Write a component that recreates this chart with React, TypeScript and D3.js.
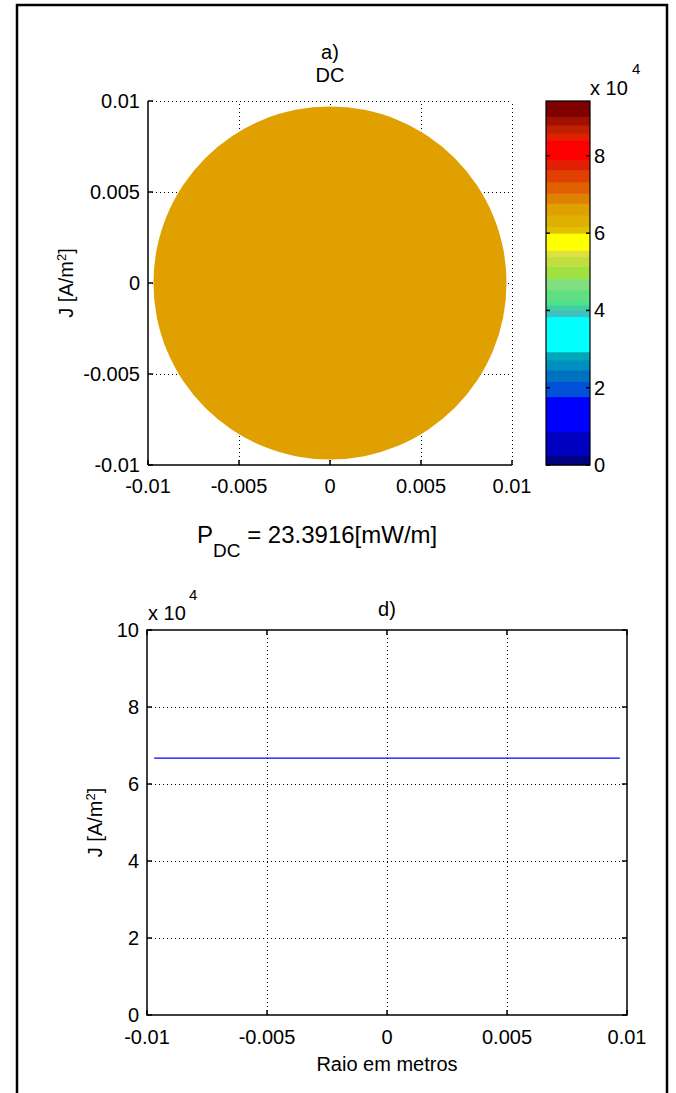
import React from 'react';
import * as d3 from 'd3';

// values
const xTicks = [-0.01, -0.005, 0, 0.005, 0.01];
const xTickLabels = ['-0.01', '-0.005', '0', '0.005', '0.01'];
const yTicksTop = [-0.01, -0.005, 0, 0.005, 0.01];
const yTickLabelsTop = ['-0.01', '-0.005', '0', '0.005', '0.01'];
const cbarTicks = [0, 2, 4, 6, 8];
const jTicks = [0, 2, 4, 6, 8, 10];

const conductorRadius = 0.0097;
const jDC = 6.67; // x 10^4 A/m²
const cMax = 9.42; // colour limit, x 10^4

const radiusPoints = [-0.0097, 0.0097];
const jPoints = [6.67, 6.67];

// colour bands as they show on the colorbar (bottom to top), upper edge of each band
const bandEdges = [0.24, 0.86, 1.77, 2.16, 2.46, 2.72, 2.93, 3.84, 4.01, 4.14, 4.27, 4.53, 4.83,
  5.13, 5.39, 5.56, 6.0, 6.17, 6.47, 6.77, 7.03, 7.33, 7.63, 7.89, 8.41, 8.58, 8.8, 9.02];
const bandColors = ['#000080', '#0000c0', '#0000ff', '#0050d8', '#0070c0', '#0090c0', '#00a8b8',
  '#00ffff', '#40c0c0', '#40d0a0', '#50e090', '#60e080', '#80e080', '#a0e040', '#c0e040',
  '#e0e040', '#ffff00', '#e0c000', '#e0b000', '#e0a000', '#e08000', '#e06000', '#e04000',
  '#e02000', '#ff0000', '#e02000', '#c02000', '#a01000', '#800000'];

const font = '"Liberation Sans", Arial, Helvetica, sans-serif';

const App = () => {
  // top axes
  const tx = d3.scaleLinear().domain([-0.01, 0.01]).range([148, 512]);
  const ty = d3.scaleLinear().domain([-0.01, 0.01]).range([465, 101]);
  // colorbar
  const cy = d3.scaleLinear().domain([0, cMax]).range([465, 101]);
  const cbX0 = 546, cbX1 = 590;
  const colorOf = d3.scaleThreshold<number, string>().domain(bandEdges).range(bandColors);
  const bands = bandColors.map((c, i) => ({
    c,
    lo: i === 0 ? 0 : bandEdges[i - 1],
    hi: i < bandEdges.length ? bandEdges[i] : cMax,
  }));
  // bottom axes
  const bx = d3.scaleLinear().domain([-0.01, 0.01]).range([147, 627]);
  const by = d3.scaleLinear().domain([0, 10]).range([1015, 630]);

  const line = d3.line<number>()
    .x((d) => bx(d))
    .y((_, i) => by(jPoints[i]));

  const dotted = { stroke: '#000', strokeWidth: 1, strokeDasharray: '1,3', shapeRendering: 'crispEdges' as const };
  const textStyle = { fontFamily: font, fontSize: 20, fill: '#000' };

  return (
    <svg width={676} height={1093} style={{ position: 'absolute', left: 0, top: 0, background: '#fff' }}>
      <rect x={0} y={0} width={676} height={1093} fill="#fff" />
      {/* outer frame */}
      <path d="M17,1093 V5 H667 V1093" fill="none" stroke="#000" strokeWidth={2.5} />

      {/* ---- top plot ---- */}
      <g {...dotted}>
        {xTicks.slice(1).map((t) => (
          <line key={'gx' + t} x1={tx(t) + 0.5} x2={tx(t) + 0.5} y1={ty(-0.01)} y2={ty(0.01)} />
        ))}
        {yTicksTop.slice(1).map((t) => (
          <line key={'gy' + t} x1={tx(-0.01)} x2={tx(0.01)} y1={ty(t) + 0.5} y2={ty(t) + 0.5} />
        ))}
      </g>
      <circle cx={tx(0)} cy={ty(0)} r={tx(conductorRadius) - tx(0)} fill={colorOf(jDC)} />
      <g stroke="#000" strokeWidth={1.5}>
        <line x1={tx(-0.01)} x2={tx(-0.01)} y1={ty(-0.01)} y2={ty(0.01)} />
        <line x1={tx(-0.01)} x2={tx(0.01)} y1={ty(-0.01)} y2={ty(-0.01)} />
        {xTicks.map((t) => (
          <line key={'tx' + t} x1={tx(t)} x2={tx(t)} y1={ty(-0.01)} y2={ty(-0.01) - 5} />
        ))}
        {yTicksTop.map((t) => (
          <line key={'ty' + t} x1={tx(-0.01)} x2={tx(-0.01) + 5} y1={ty(t)} y2={ty(t)} />
        ))}
      </g>
      <g {...textStyle}>
        {xTicks.map((t, i) => (
          <text key={'lx' + t} x={tx(t)} y={493} textAnchor="middle">{xTickLabels[i]}</text>
        ))}
        {yTicksTop.map((t, i) => (
          <text key={'ly' + t} x={140} y={ty(t) + 7} textAnchor="end">{yTickLabelsTop[i]}</text>
        ))}
        <text x={330} y={59} textAnchor="middle">a)</text>
        <text x={330} y={82} textAnchor="middle">DC</text>
        <text transform={`translate(73,${ty(0)}) rotate(-90)`} textAnchor="middle">
          J [A/m<tspan fontSize={13} dy={-7}>2</tspan><tspan dy={7}>]</tspan>
        </text>
      </g>

      {/* colorbar */}
      {bands.map((b, i) => (
        <rect key={'cb' + i} x={cbX0} y={cy(b.hi)} width={cbX1 - cbX0}
          height={cy(b.lo) - cy(b.hi) + 0.5} fill={b.c} />
      ))}
      <rect x={cbX0} y={cy(cMax)} width={cbX1 - cbX0} height={cy(0) - cy(cMax)} fill="none" stroke="#000" strokeWidth={1.2} />
      <g stroke="#000" strokeWidth={1.5}>
        {cbarTicks.map((t) => (
          <g key={'ct' + t}>
            <line x1={cbX0} x2={cbX0 + 4} y1={cy(t)} y2={cy(t)} />
            <line x1={cbX1} x2={cbX1 - 4} y1={cy(t)} y2={cy(t)} />
          </g>
        ))}
      </g>
      <g {...textStyle}>
        {cbarTicks.map((t) => (
          <text key={'cl' + t} x={594} y={cy(t) + 7}>{t}</text>
        ))}
        <text x={590} y={95}>x 10</text>
        <text x={632} y={74} fontSize={15}>4</text>
      </g>

      {/* power text */}
      <text x={197} y={543} fontFamily={font} fontSize={24} fill="#000">
        P<tspan fontSize={19} dy={14}>DC</tspan><tspan dy={-14}> = 23.3916[mW/m]</tspan>
      </text>

      {/* ---- bottom plot ---- */}
      <g {...dotted}>
        {xTicks.slice(1, -1).map((t) => (
          <line key={'bgx' + t} x1={bx(t) + 0.5} x2={bx(t) + 0.5} y1={by(0)} y2={by(10)} />
        ))}
        {jTicks.slice(1, -1).map((t) => (
          <line key={'bgy' + t} x1={bx(-0.01)} x2={bx(0.01)} y1={by(t) + 0.5} y2={by(t) + 0.5} />
        ))}
      </g>
      <path d={line(radiusPoints) || ''} fill="none" stroke="#0000ff" strokeWidth={1.3} />
      <rect x={bx(-0.01)} y={by(10)} width={bx(0.01) - bx(-0.01)} height={by(0) - by(10)}
        fill="none" stroke="#000" strokeWidth={1.5} />
      <g stroke="#000" strokeWidth={1.5}>
        {xTicks.map((t) => (
          <g key={'btx' + t}>
            <line x1={bx(t)} x2={bx(t)} y1={by(0)} y2={by(0) - 5} />
            <line x1={bx(t)} x2={bx(t)} y1={by(10)} y2={by(10) + 5} />
          </g>
        ))}
        {jTicks.map((t) => (
          <g key={'bty' + t}>
            <line x1={bx(-0.01)} x2={bx(-0.01) + 5} y1={by(t)} y2={by(t)} />
            <line x1={bx(0.01)} x2={bx(0.01) - 5} y1={by(t)} y2={by(t)} />
          </g>
        ))}
      </g>
      <g {...textStyle}>
        {xTicks.map((t, i) => (
          <text key={'blx' + t} x={bx(t)} y={1044} textAnchor="middle">{xTickLabels[i]}</text>
        ))}
        {jTicks.map((t) => (
          <text key={'bly' + t} x={139} y={by(t) + 7} textAnchor="end">{t}</text>
        ))}
        <text x={148} y={620}>x 10</text>
        <text x={189} y={600} fontSize={15}>4</text>
        <text x={387} y={616} textAnchor="middle">d)</text>
        <text x={387} y={1071} textAnchor="middle">Raio em metros</text>
        <text transform={`translate(102,${by(5)}) rotate(-90)`} textAnchor="middle">
          J [A/m<tspan fontSize={13} dy={-7}>2</tspan><tspan dy={7}>]</tspan>
        </text>
      </g>
    </svg>
  );
};

export default App;
